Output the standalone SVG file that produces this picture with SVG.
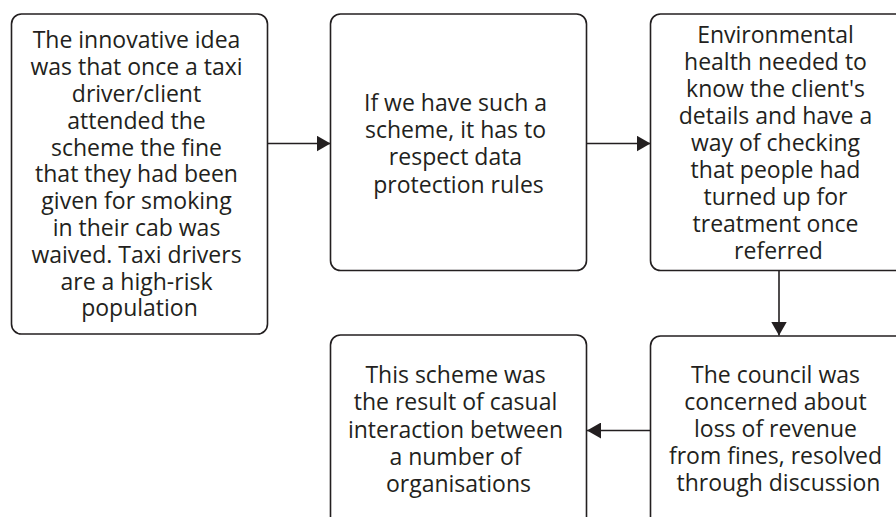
<svg xmlns="http://www.w3.org/2000/svg" width="896" height="517" viewBox="0 0 896 517">
  <style>
    .box { fill: #ffffff; stroke: #231f20; stroke-width: 1.6; }
    .label { font-family: "Open Sans", "Noto Sans", "Liberation Sans", sans-serif; font-size: 23px; fill: #231f20; text-anchor: middle; }
    .link { fill: none; stroke: #231f20; stroke-width: 1.6; marker-end: url(#arrow); }
  </style>
  <defs>
    <marker id="arrow" markerUnits="userSpaceOnUse" viewBox="0 0 14 16" refX="14" refY="8" markerWidth="14" markerHeight="16" orient="auto">
      <path d="M0,0 L14,8 L0,16 Z" fill="#231f20"/>
    </marker>
  </defs>
  <rect width="896" height="517" fill="#ffffff"/>

  <g id="connectors">
    <line class="link" x1="267.5" y1="143.5" x2="330.5" y2="143.5"/>
    <line class="link" x1="586.5" y1="143.5" x2="650.5" y2="143.5"/>
    <line class="link" x1="779" y1="270.5" x2="779" y2="335.5"/>
    <line class="link" x1="650.5" y1="430.5" x2="587" y2="430.5"/>
  </g>

  <g id="node-idea">
    <rect class="box" x="11.5" y="14" width="256" height="320" rx="10"/>
    <text class="label">
      <tspan x="139.5" y="48.3">The innovative idea</tspan>
      <tspan x="139.5" y="75.1">was that once a taxi</tspan>
      <tspan x="139.5" y="101.9">driver/client</tspan>
      <tspan x="139.5" y="128.7">attended the</tspan>
      <tspan x="139.5" y="155.5">scheme the fine</tspan>
      <tspan x="139.5" y="182.3">that they had been</tspan>
      <tspan x="139.5" y="209.1">given for smoking</tspan>
      <tspan x="139.5" y="235.9">in their cab was</tspan>
      <tspan x="139.5" y="262.7">waived. Taxi drivers</tspan>
      <tspan x="139.5" y="289.5">are a high-risk</tspan>
      <tspan x="139.5" y="316.3">population</tspan>
    </text>
  </g>

  <g id="node-data-protection">
    <rect class="box" x="330.5" y="14" width="256" height="256.5" rx="10"/>
    <text class="label">
      <tspan x="458.5" y="111">If we have such a</tspan>
      <tspan x="458.5" y="138.2">scheme, it has to</tspan>
      <tspan x="458.5" y="165.4">respect data</tspan>
      <tspan x="458.5" y="192.6">protection rules</tspan>
    </text>
  </g>

  <g id="node-environmental-health">
    <rect class="box" x="650.5" y="14" width="256" height="256.5" rx="10"/>
    <text class="label">
      <tspan x="778.5" y="43.3">Environmental</tspan>
      <tspan x="778.5" y="70.2">health needed to</tspan>
      <tspan x="778.5" y="97.1">know the client's</tspan>
      <tspan x="778.5" y="124">details and have a</tspan>
      <tspan x="778.5" y="150.9">way of checking</tspan>
      <tspan x="778.5" y="177.8">that people had</tspan>
      <tspan x="778.5" y="204.7">turned up for</tspan>
      <tspan x="778.5" y="231.6">treatment once</tspan>
      <tspan x="778.5" y="258.5">referred</tspan>
    </text>
  </g>

  <g id="node-council">
    <rect class="box" x="650.5" y="336" width="256" height="256" rx="10"/>
    <text class="label">
      <tspan x="778.5" y="383.3">The council was</tspan>
      <tspan x="778.5" y="410.2">concerned about</tspan>
      <tspan x="778.5" y="437">loss of revenue</tspan>
      <tspan x="778.5" y="463.9">from fines, resolved</tspan>
      <tspan x="778.5" y="490.7">through discussion</tspan>
    </text>
  </g>

  <g id="node-casual-interaction">
    <rect class="box" x="330.5" y="335" width="256" height="256" rx="10"/>
    <text class="label">
      <tspan x="458.5" y="383.3">This scheme was</tspan>
      <tspan x="458.5" y="410.4">the result of casual</tspan>
      <tspan x="458.5" y="437.5">interaction between</tspan>
      <tspan x="458.5" y="464.6">a number of</tspan>
      <tspan x="458.5" y="491.7">organisations</tspan>
    </text>
  </g>
</svg>
